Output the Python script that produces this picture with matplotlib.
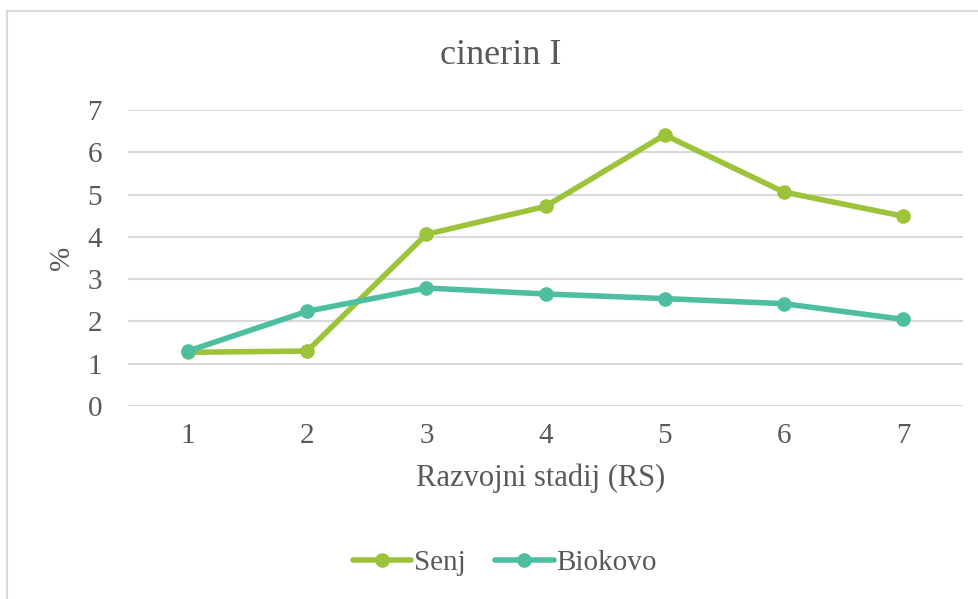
import matplotlib
matplotlib.use("Agg")
import matplotlib.pyplot as plt
from matplotlib.patches import Rectangle

stages = [1, 2, 3, 4, 5, 6, 7]
senj = [1.27, 1.30, 4.06, 4.72, 6.41, 5.06, 4.49]
biokovo = [1.30, 2.24, 2.79, 2.65, 2.54, 2.42, 2.05]
yticks = [0, 1, 2, 3, 4, 5, 6, 7]

TXT = "#595959"
plt.rcParams['font.family'] = ['Liberation Serif', 'DejaVu Serif']

fig = plt.figure(figsize=(9.79, 5.99), dpi=100)
fig.patches.append(Rectangle((7.5/979, -0.1), 1.2, 1 - 11/599 + 0.1, transform=fig.transFigure,
                             fill=False, edgecolor="#D9D9D9", linewidth=1.5, zorder=0))

ax = fig.add_axes([128.5/979, 1 - 406/599, (962.5 - 128.5)/979, (406 - 110)/599])
ax.set_xlim(0.5, 7.5)
ax.set_ylim(0, 7)
ax.set_yticks(yticks)
ax.set_xticks(stages)
ax.grid(axis='y', color="#D9D9D9", linewidth=1.5)
ax.set_axisbelow(True)
for s in ax.spines.values():
    s.set_visible(False)
ax.tick_params(length=0, labelsize=21, labelcolor=TXT)
ax.tick_params(axis='y', pad=19)
ax.tick_params(axis='x', pad=12)

ax.plot(stages, senj, color="#9DC33B", linewidth=4, marker='o', markersize=9.5,
        label="Senj", solid_capstyle='round', zorder=3)
ax.plot(stages, biokovo, color="#4DBFA0", linewidth=4, marker='o', markersize=9.5,
        label="Biokovo", solid_capstyle='round', zorder=4)

fig.text(501/979, 1 - 55/599, "cinerin I", ha='center', va='center', fontsize=26, color=TXT)
fig.text(541/979, 1 - 478/599, "Razvojni stadij (RS)", ha='center', va='center', fontsize=22, color=TXT)
fig.text(62/979, 1 - 258/599, "%", ha='center', va='center', fontsize=21, color=TXT, rotation=90)

leg = fig.legend(loc='center', bbox_to_anchor=(505/979, 1 - 563/599), ncol=2, frameon=False,
                 fontsize=21, handlelength=2.0, handletextpad=0.1, columnspacing=1.0)
for t in leg.get_texts():
    t.set_color(TXT)

fig.savefig("out.png", dpi=100, facecolor="white")
